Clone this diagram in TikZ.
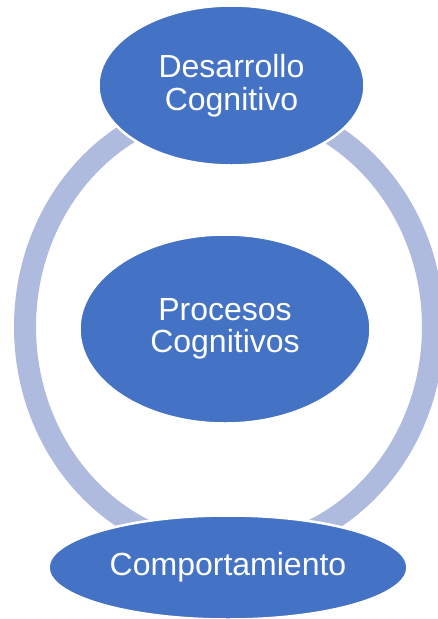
\documentclass[tikz,border=0pt]{standalone}
\usepackage{fontspec}
\setmainfont{Liberation Sans}
\usetikzlibrary{shapes.geometric}
\definecolor{blobblue}{HTML}{4472C4}
\definecolor{ringblue}{HTML}{AEBADE}
\tikzset{
  blob/.style={ellipse, fill=blobblue, draw=white, line width=2.5pt, inner sep=0pt,
    text=white, align=center, font=\fontsize{32}{32.5}\selectfont},
  ringline/.style={draw=ringblue, line width=22pt}
}
\begin{document}
\begin{tikzpicture}[x=1pt,y=-1pt]
\useasboundingbox[fill=white] (0,0) rectangle (438,619);
\draw[ringline] (229,327) ellipse [x radius=204pt, y radius=223pt];
\node[blob, minimum width=266pt, minimum height=160pt] (top) at (231.5,85.5) {Desarrollo\\Cognitivo};
\node[blob, minimum width=291pt, minimum height=189pt] (mid) at (225,329) {Procesos\\Cognitivos};
\node[blob, minimum width=359pt, minimum height=104pt] (bot) at (228,567.5) {Comportamiento};
\end{tikzpicture}
\end{document}
